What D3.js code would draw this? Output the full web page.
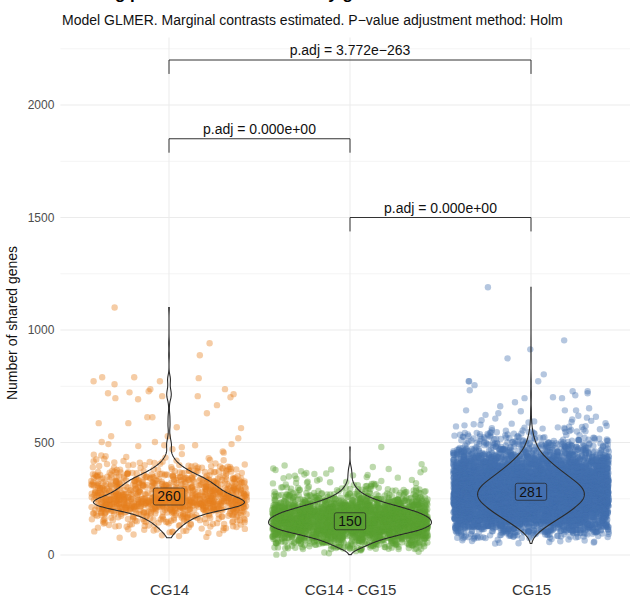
<!DOCTYPE html>
<html lang="en">
<head>
<meta charset="UTF-8" />
<title>Number of shared genes</title>
<script src="https://d3js.org/d3.v7.min.js"></script>
<style>
  body { margin: 0; background: #fff; }
  svg { display: block; font-family: 'Liberation Sans', Arial, sans-serif; }
  .grid line { stroke: #ebebeb; stroke-width: 1; }
  .grid line.minor { stroke: #f4f4f4; }
  .y-axis text { fill: #4d4d4d; font-size: 12px; }
  .x-axis text { fill: #333; font-size: 15px; }
  .violin { fill: none; stroke: #2b2b2b; stroke-width: 1.1; }
  .bracket { fill: none; stroke: #333; stroke-width: 1; }
  .p-label { font-size: 14px; fill: #111; text-anchor: middle; }
</style>
</head>
<body>
<div id="chart"></div>
<script>
// categories and colours
const categories = ["CG14", "CG14 - CG15", "CG15"];
const colors = ["#E5801F", "#5B9F32", "#4470B0"];

// point clouds: counts per 25-gene bin, plus the sparse upper tail
const binWidth = 25;
const cg14Start = 75;
const cg14Bins = [7, 18, 31, 49, 75, 150, 172, 130, 110, 95, 80, 52, 31, 16, 8];
const cg14Tail = [1100, 941, 888, 790, 790, 786, 772, 772, 759, 737, 737, 728, 723, 719, 715,
  706, 706, 701, 697, 692, 666, 630, 612, 612, 586, 586, 568, 564, 528, 528, 519, 502, 502,
  493, 493, 488, 488, 484, 479, 470, 460, 455];

const cg1415Start = 0;
const cg1415Bins = [8, 70, 130, 230, 350, 400, 390, 340, 250, 150, 80, 40, 20, 10];
const cg1415Tail = [480, 404, 398, 391, 385, 382, 380, 380, 378, 372, 368, 365, 362, 360, 358,
  356, 354, 352];

const cg15Start = 50;
const cg15Bins = [15, 60, 150, 260, 380, 500, 600, 690, 730, 720, 660, 560, 460, 360, 270, 190,
  120, 80, 50, 30, 18, 10, 6];
const cg15Tail = [1190, 954, 914, 874, 803, 772, 772, 772, 755, 732, 728, 728, 719, 710, 701,
  697, 697, 679, 661, 652, 643, 643, 643, 639, 630];

// medians printed on the violins
const medians = [260, 150, 281];

// pairwise comparisons
const compFrom = ["CG14", "CG14", "CG14 - CG15"];
const compTo = ["CG15", "CG14 - CG15", "CG15"];
const compHeight = [2200, 1850, 1500];
const compLabel = ["p.adj = 3.772e\u2212263", "p.adj = 0.000e+00", "p.adj = 0.000e+00"];

const yTicks = [0, 500, 1000, 1500, 2000];
const yMinor = [250, 750, 1250, 1750, 2250];

const width = 630, height = 597;
const svg = d3.select("#chart").append("svg")
  .attr("width", width)
  .attr("height", height);

const x = d3.scalePoint().domain(categories).range([169, 531]);
const step = x.step();
const y = d3.scaleLinear().domain([-120, 2300]).range([582, 37.5]);
const panelLeft = x(categories[0]) - 0.6 * step;
const panelRight = x(categories[2]) + 0.6 * step;

// grid
const grid = svg.append("g").attr("class", "grid");
grid.selectAll(".minor").data(yMinor).join("line")
  .attr("class", "minor")
  .attr("x1", panelLeft).attr("x2", panelRight)
  .attr("y1", d => y(d)).attr("y2", d => y(d));
grid.selectAll(".major").data(yTicks).join("line")
  .attr("class", "major")
  .attr("x1", panelLeft).attr("x2", panelRight)
  .attr("y1", d => y(d)).attr("y2", d => y(d));
grid.selectAll(".vert").data(categories).join("line")
  .attr("class", "vert")
  .attr("x1", d => x(d)).attr("x2", d => x(d))
  .attr("y1", y.range()[1]).attr("y2", y.range()[0]);

// expand bins into points, values spread evenly inside each bin; horizontal jitter from a hash
const frac = v => v - Math.floor(v);
const hash = (i, s) => frac(Math.sin(i * 12.9898 + s * 78.233) * 43758.5453);
function makePoints(start, bins, tail, seed) {
  const pts = [];
  let i = 0;
  bins.forEach((c, b) => {
    for (let k = 0; k < c; k++, i++) {
      pts.push({ v: start + b * binWidth + (k + 0.5) / c * binWidth, j: hash(i, seed) - 0.5 });
    }
  });
  tail.forEach(v => { pts.push({ v, j: hash(i, seed) - 0.5 }); i++; });
  return pts;
}
const groups = [
  makePoints(cg14Start, cg14Bins, cg14Tail, 1),
  makePoints(cg1415Start, cg1415Bins, cg1415Tail, 2),
  makePoints(cg15Start, cg15Bins, cg15Tail, 3)
];

const jitterWidth = 0.86 * step;
groups.forEach((pts, gi) => {
  svg.append("g")
    .selectAll("circle").data(pts).join("circle")
    .attr("cx", d => x(categories[gi]) + d.j * jitterWidth)
    .attr("cy", d => y(d.v))
    .attr("r", 3.2)
    .attr("fill", colors[gi])
    .attr("fill-opacity", 0.4);
});

// violins: gaussian kde, nrd0 bandwidth, trimmed, scaled by area
function kde(vals) {
  const s = vals.slice().sort(d3.ascending);
  const n = s.length;
  const sd = d3.deviation(s);
  const iqr = d3.quantileSorted(s, 0.75) - d3.quantileSorted(s, 0.25);
  const bw = 0.9 * Math.min(sd, iqr / 1.34) * Math.pow(n, -0.2);
  const lo = s[0], hi = s[n - 1];
  const out = [];
  for (let k = 0; k < 512; k++) {
    const t = lo + (hi - lo) * k / 511;
    let sum = 0;
    for (let m = 0; m < n; m++) {
      const z = (t - s[m]) / bw;
      if (z > -6 && z < 6) sum += Math.exp(-0.5 * z * z);
    }
    out.push({ t, d: sum / (n * bw * Math.sqrt(2 * Math.PI)) });
  }
  return out;
}
const dens = groups.map(pts => kde(pts.map(p => p.v)));
const maxD = d3.max(dens, ds => d3.max(ds, d => d.d));
const w = d3.scaleLinear().domain([0, maxD]).range([0, 0.45 * step]);

dens.forEach((ds, gi) => {
  const cx = x(categories[gi]);
  svg.append("path")
    .datum(ds)
    .attr("class", "violin")
    .attr("d", d3.area()
      .y(d => y(d.t))
      .x0(d => cx - w(d.d))
      .x1(d => cx + w(d.d)));
});

// median labels
medians.forEach((m, gi) => {
  const g = svg.append("g")
    .attr("transform", `translate(${x(categories[gi])},${y(m)})`);
  const rect = g.append("rect");
  const txt = g.append("text")
    .attr("text-anchor", "middle")
    .attr("dy", "0.35em")
    .style("font-size", "14px")
    .attr("fill", "#111")
    .text(m);
  const tw = txt.node().getComputedTextLength();
  rect.attr("x", -tw / 2 - 4).attr("y", -8.5)
    .attr("width", tw + 8).attr("height", 17)
    .attr("rx", 2)
    .attr("fill", colors[gi]).attr("fill-opacity", 0.85)
    .attr("stroke", "#222").attr("stroke-width", 0.7);
});

// comparison brackets
const tickLen = 62;
compFrom.forEach((a, k) => {
  const x1 = x(a), x2 = x(compTo[k]);
  const yb = y(compHeight[k]), yt = y(compHeight[k] - tickLen);
  svg.append("path")
    .attr("class", "bracket")
    .attr("d", `M${x1},${yt}V${yb}H${x2}V${yt}`);
  svg.append("text")
    .attr("class", "p-label")
    .attr("x", (x1 + x2) / 2)
    .attr("y", yb - 5)
    .text(compLabel[k]);
});

// axes
const yAxis = svg.append("g")
  .attr("class", "y-axis")
  .attr("transform", `translate(${panelLeft},0)`)
  .call(d3.axisLeft(y).tickValues(yTicks).tickFormat(d3.format("d")).tickSize(0).tickPadding(6));
yAxis.select(".domain").remove();

const xAxis = svg.append("g")
  .attr("class", "x-axis")
  .attr("transform", `translate(0,${y.range()[0]})`)
  .call(d3.axisBottom(x).tickSize(0).tickPadding(2));
xAxis.select(".domain").remove();

// titles (the main title is cut off at the top edge, as in the source image)
svg.append("text")
  .attr("x", 62)
  .attr("y", -1)
  .style("font-size", "17px")
  .style("font-weight", "bold")
  .text("Sharing patterns of shared hits by gene");

svg.append("text")
  .attr("x", 62)
  .attr("y", 25)
  .style("font-size", "14px")
  .attr("fill", "#111")
  .text("Model GLMER. Marginal contrasts estimated. P\u2212value adjustment method: Holm");

svg.append("text")
  .attr("transform", "translate(17,323) rotate(-90)")
  .attr("text-anchor", "middle")
  .style("font-size", "14px")
  .attr("fill", "#111")
  .text("Number of shared genes");
</script>
</body>
</html>
